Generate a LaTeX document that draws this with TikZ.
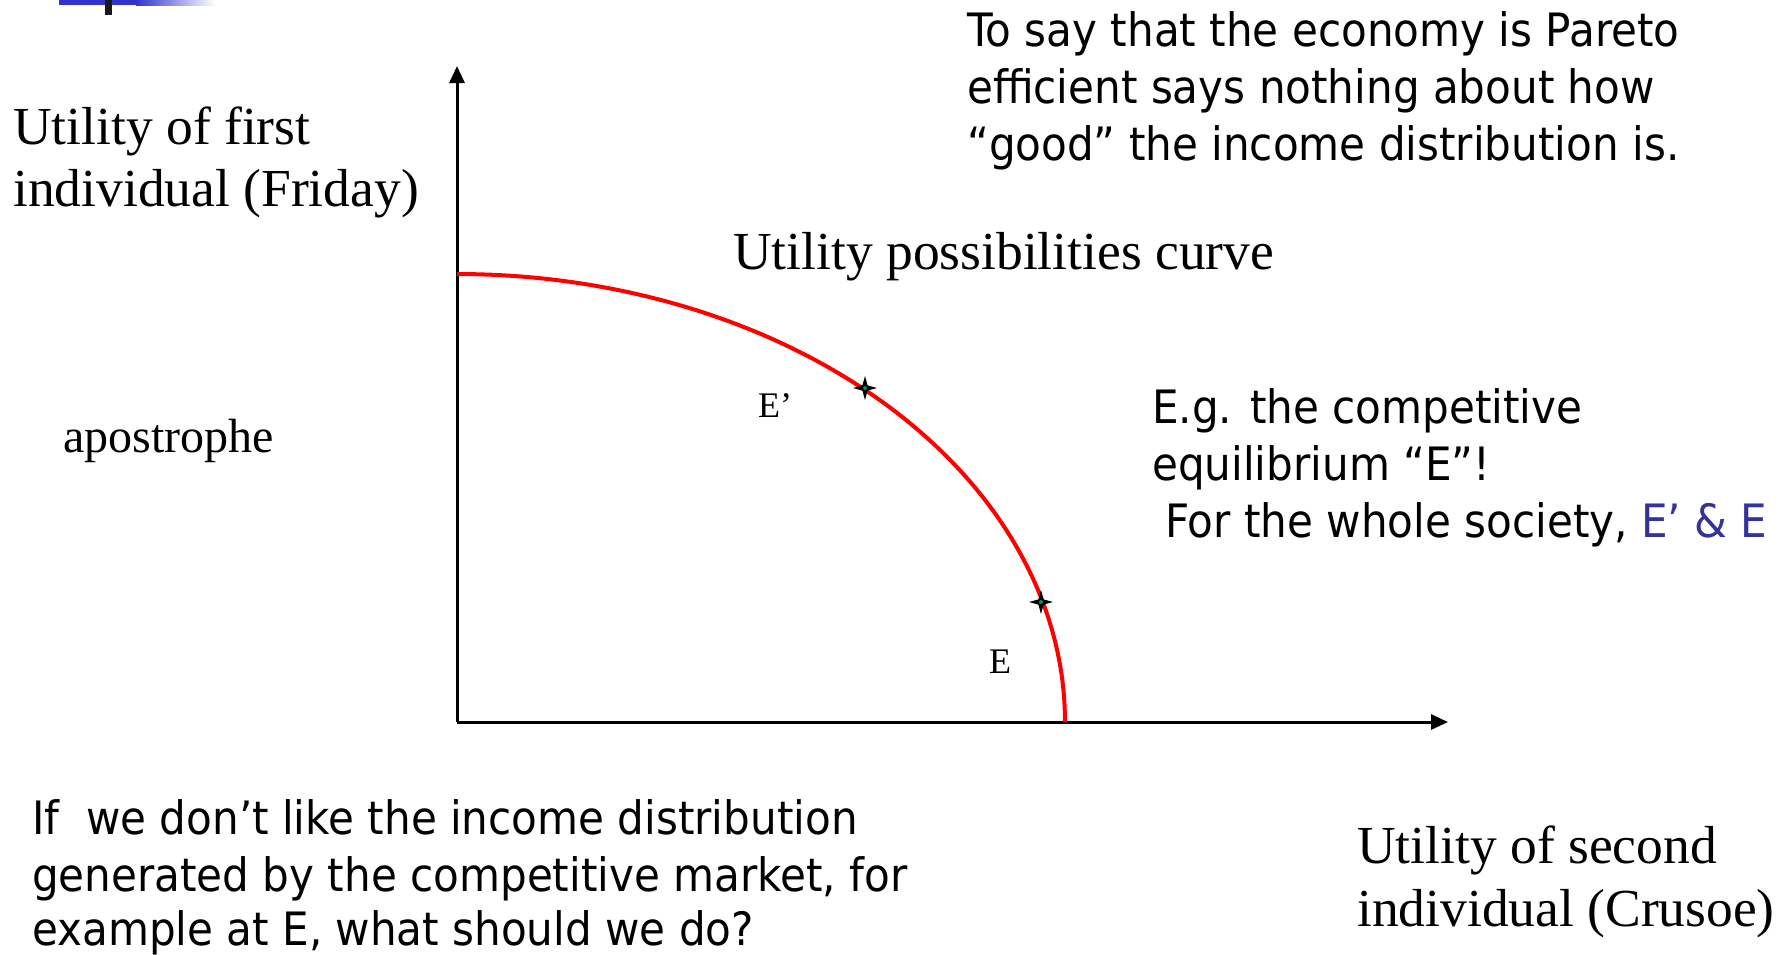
\documentclass[tikz,border=0pt]{standalone}
\usepackage{fontspec}
\setmainfont{Liberation Serif}
\newfontfamily\tahoma[FakeStretch=0.915]{DejaVu Sans}
\usetikzlibrary{arrows.meta}
\definecolor{curvered}{RGB}{255,0,0}
\definecolor{textblue}{RGB}{51,51,153}
\definecolor{barblue}{RGB}{51,51,204}
\definecolor{starteal}{RGB}{0,140,120}
\tikzset{
  serif/.style={font=\fontsize{53.5}{62}\selectfont, inner sep=0pt, anchor=base west},
  smallserif/.style={font=\fontsize{36}{42}\selectfont, inner sep=0pt, anchor=base west},
  midserif/.style={font=\fontsize{48}{58}\selectfont, inner sep=0pt, anchor=base west},
  sans/.style={font=\tahoma\fontsize{46}{57}\selectfont, inner sep=0pt, anchor=base west},
  axis/.style={line width=3pt, -{Triangle[length=17pt,width=15pt]}},
  ucurve/.style={line width=4pt, curvered},
  starmark/.pic={
    \fill[black] (12,0) -- (2.6,2.6) -- (0,12) -- (-2.6,2.6) -- (-12,0) -- (-2.6,-2.6) -- (0,-12) -- (2.6,-2.6) -- cycle;
    \fill[starteal] (0,0) circle (2);
  }
}
\begin{document}
\begin{tikzpicture}[x=1pt,y=-1pt]
\useasboundingbox[fill=white] (0,0) rectangle (1788,954);
% top-left decoration
\fill[barblue] (59,0) rectangle (136,5);
\shade[left color=barblue, right color=white] (136,0) rectangle (215,5);
\fill[black!90] (105,0) rectangle (112,15);
% axes
\coordinate (O) at (457,722);
\coordinate (ytip) at (457,66);
\coordinate (xtip) at (1448,722);
\draw[axis] (O) -- (ytip);
\draw[axis] (O) -- (xtip);
% utility possibilities curve
\draw[ucurve] plot[domain=0:90, samples=90] ({457+608*cos(\x)},{722-448*sin(\x)});
\coordinate (Eprime) at (865,388);
\coordinate (Epoint) at (1041,602);
\pic at (Eprime) {starmark};
\pic at (Epoint) {starmark};
% labels
\node[serif] (ylab1) at (13,144) {Utility of first};
\node[serif] (ylab2) at (13,206) {individual (Friday)};
\node[serif] (upc) at (733,269) {Utility possibilities curve};
\node[midserif] (apos) at (63,452) {apostrophe};
\node[smallserif] (lEp) at (758,417) {E’};
\node[smallserif] (lE) at (989,673) {E};
\node[serif] (xlab1) at (1357,863) {Utility of second};
\node[serif] (xlab2) at (1357,926) {individual (Crusoe)};
% sans text blocks
\node[sans] (t1) at (967,46) {To say that the economy is Pareto};
\node[sans] (t2) at (967,103) {efficient says nothing about how};
\node[sans] (t3) at (967,160) {“good” the income distribution is.};
\node[sans] (g1) at (1152,423) {E.g. the competitive};
\node[sans] (g2) at (1152,480) {equilibrium “E”!};
\node[sans] (g3) at (1165,537) {For the whole society, \textcolor{textblue}{E’ \& E}};
\node[sans] (q1) at (32,834) {If\ \ we don’t like the income distribution};
\node[sans] (q2) at (32,891) {generated by the competitive market, for};
\node[sans] (q3) at (32,945) {example at E, what should we do?};
\end{tikzpicture}
\end{document}
